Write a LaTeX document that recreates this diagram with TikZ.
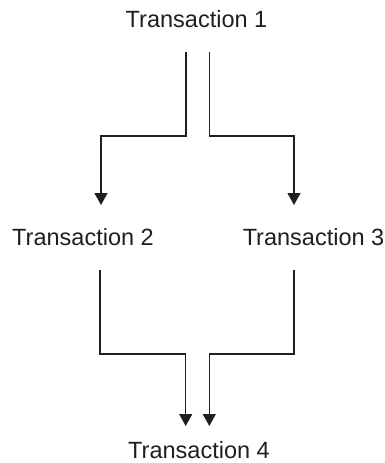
\documentclass[tikz,border=0pt]{standalone}
\usepackage{fontspec}
\setmainfont{Liberation Sans}
\usetikzlibrary{arrows.meta}
\begin{document}
\begin{tikzpicture}[x=1pt,y=-1pt,
  lbl/.style={anchor=base,inner sep=0pt,font=\fontsize{23.5}{28}\selectfont,text=black!88},
  conn/.style={line width=1.3pt,draw=black!88,-{Triangle[length=12pt,width=13pt]}}]
\useasboundingbox (0,0) rectangle (385,463);
\node[lbl] (t1) at (196.5,27.7) {Transaction 1};
\node[lbl] (t2) at (83,245) {Transaction 2};
\node[lbl] (t3) at (313.5,245) {Transaction 3};
\node[lbl] (t4) at (199,458) {Transaction 4};
% top fork
\coordinate (t1l) at (186,52);
\coordinate (t1r) at (209.3,52);
\coordinate (t2in) at (101,205);
\coordinate (t3in) at (294,205);
\draw[conn] (t1l) |- (t2in |- 0,136) -- (t2in);
\draw[conn] (t1r) |- (t3in |- 0,136) -- (t3in);
% bottom join
\coordinate (t2out) at (100,270);
\coordinate (t3out) at (294,270);
\coordinate (t4l) at (185.7,426);
\coordinate (t4r) at (209.3,426);
\draw[conn] (t2out) |- (t4l |- 0,354) -- (t4l);
\draw[conn] (t3out) |- (t4r |- 0,354) -- (t4r);
\end{tikzpicture}
\end{document}
